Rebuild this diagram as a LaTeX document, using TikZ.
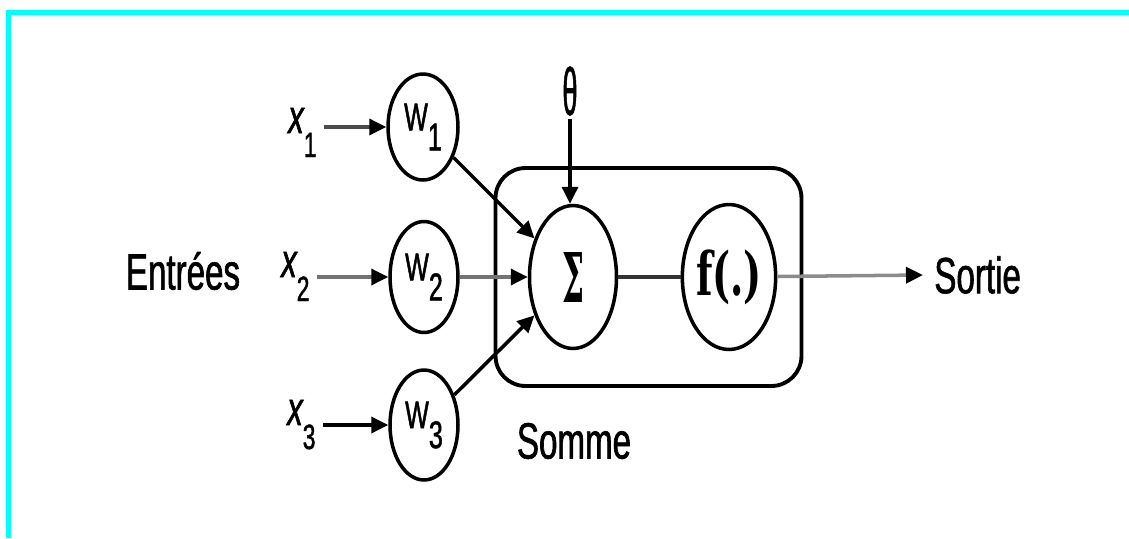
\documentclass[tikz,border=0pt]{standalone}
\usepackage{fontspec}
\usepackage{graphicx}
\newfontfamily\nsf[FakeStretch=0.65,FakeBold=1.2]{Liberation Sans}
\newfontfamily\dvs{DejaVu Serif}
\definecolor{cy}{RGB}{0,255,255}
\usetikzlibrary{shapes.geometric,arrows.meta}
\tikzset{
  lbl/.style={font=\nsf\fontsize{29}{29}\selectfont, inner sep=0},
  xlab/.style={font=\nsf\itshape\fontsize{27}{27}\selectfont, inner sep=0, anchor=base west},
  wnode/.style={ellipse, draw, line width=2pt, inner sep=0, font=\nsf\fontsize{22}{22}\selectfont},
  arr/.style={line width=2pt, -{Triangle[length=0.34cm,width=0.32cm,color=black]}},
  plainline/.style={line width=2.2pt},
  frame/.style={cy, line width=0.09cm},
}
\newcommand{\xsub}[1]{\raisebox{-0.48cm}{\upshape\fontsize{20}{20}\selectfont #1}}
\newcommand{\wsub}[1]{\raisebox{-0.4cm}{#1}}
\begin{document}
\begin{tikzpicture}[x=0.02cm,y=-0.02cm]
\useasboundingbox (0,0) rectangle (1129,538);
\draw[frame] (8.5,538) -- (8.5,12.5) -- (1129,12.5);

% summation box
\node[draw, line width=2.2pt, rounded corners=0.6cm, minimum width=6.12cm, minimum height=4.36cm, inner sep=0] (box) at (648.5,277) {};

% inputs
\node[xlab] (x1) at (288,133) {x\xsub{1}};
\node[xlab] (x2) at (281,277) {x\xsub{2}};
\node[xlab] (x3) at (287,425) {x\xsub{3}};

% weights
\node[wnode, minimum width=1.4cm, minimum height=2.12cm] (w1) at (423,127) {W\wsub{1}};
\node[wnode, minimum width=1.36cm, minimum height=2.22cm] (w2) at (424,277) {W\wsub{2}};
\node[wnode, minimum width=1.36cm, minimum height=2.2cm] (w3) at (424,425) {W\wsub{3}};

% sum and activation
\node[wnode, minimum width=1.74cm, minimum height=2.86cm] (sig) at (573,277) {\resizebox*{0.44cm}{1.0cm}{\dvs\bfseries Σ}};
\node[wnode, minimum width=1.84cm, minimum height=2.9cm] (f) at (729,277) {\resizebox*{1.32cm}{1.1cm}{\dvs\bfseries f(.)}};

% threshold
\node[inner sep=0.06cm] (th) at (570,91) {\resizebox*{0.3cm}{0.98cm}{\nsf θ}};

% labels
\node[lbl] (ent) at (183,271) {Entrées};
\node[lbl, anchor=west, inner xsep=0.22cm] (so) at (923,275) {Sortie};
\node[lbl] (som) at (574,441) {Somme};

% connectors
\draw[arr, black!70, shorten <=0.15cm] (x1.east |- w1.west) -- (w1.west);
\draw[arr, black!55, shorten <=0.15cm] (x2.east |- w2.west) -- (w2.west);
\draw[arr, shorten <=0.15cm] (x3.east |- w3.west) -- (w3.west);
\draw[arr] (w1) -- (sig);
\draw[arr, black!55] (w2) -- (sig);
\draw[arr] (w3) -- (sig);
\draw[arr] (th) -- (th |- sig.north);
\draw[plainline, black!80] (sig) -- (f);
\draw[arr, black!45] (f) -- (so.west);
\end{tikzpicture}
\end{document}
